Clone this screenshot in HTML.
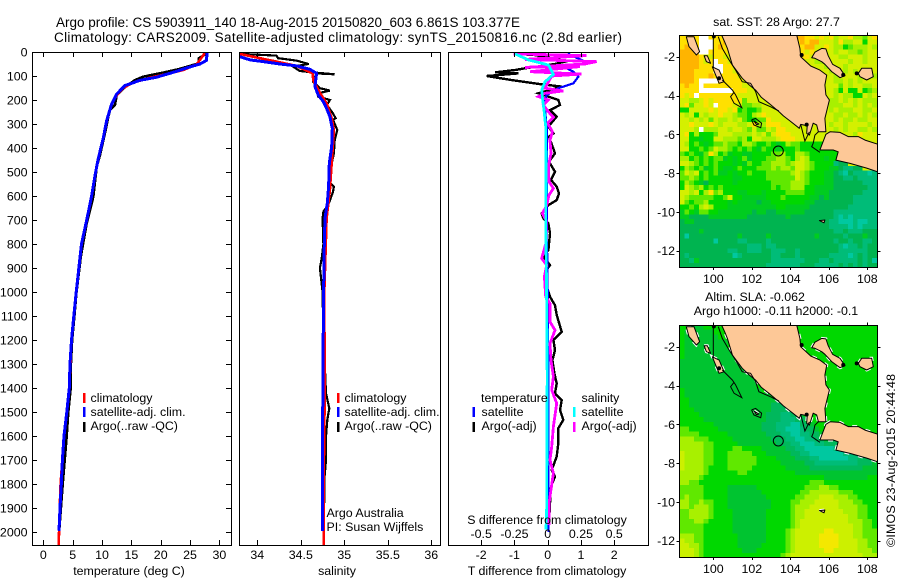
<!DOCTYPE html>
<html lang="en">
<head>
<meta charset="utf-8">
<title>Argo profile chart</title>
<style>
html,body{margin:0;padding:0;background:#fff;}
#chart{display:block;width:900px;height:580px;}
text{font-family:"Liberation Sans",sans-serif;font-size:12.4px;fill:#000;}
.title{font-size:13.5px;}
.line{fill:none;stroke-linejoin:miter;shape-rendering:crispEdges;}
.axis{shape-rendering:crispEdges;}
</style>
</head>
<body>
<svg id="chart" xmlns="http://www.w3.org/2000/svg" width="900" height="580" viewBox="0 0 900 580">
  <defs>
    <clipPath id="clip-temp"><rect x="32" y="52" width="199" height="493"/></clipPath>
    <clipPath id="clip-sal"><rect x="239" y="52" width="201" height="493"/></clipPath>
    <clipPath id="clip-diff"><rect x="448" y="52" width="200" height="493"/></clipPath>
    <clipPath id="clip-sst"><rect x="679" y="35" width="198.5" height="232"/></clipPath>
    <clipPath id="clip-sla"><rect x="679" y="325" width="198.5" height="232"/></clipPath>
  </defs>
  <rect x="0" y="0" width="900" height="580" fill="#fff"/>
  <text class="title" x="56" y="27" textLength="464">Argo profile: CS 5903911_140 18-Aug-2015 20150820_603 6.861S 103.377E</text>
  <text class="title" x="54" y="42" textLength="568">Climatology: CARS2009. Satellite-adjusted climatology: synTS_20150816.nc (2.8d earlier)</text>

  <g id="temp-panel"></g>
  <g id="sal-panel"></g>
  <g id="diff-panel"></g>
  <g id="sst-map"></g>
  <g id="sla-map"></g>

  <text x="129" y="575" text-anchor="middle">temperature (deg C)</text>
  <text x="337" y="575" text-anchor="middle">salinity</text>
  <text x="547" y="575" text-anchor="middle">T difference from climatology</text>
  <text x="547" y="524" text-anchor="middle">S difference from climatology</text>

  <g>
    <rect x="83" y="393" width="2.5" height="10" fill="#f00"/>
    <text x="90.5" y="402">climatology</text>
    <rect x="83" y="407" width="2.5" height="10" fill="#00f"/>
    <text x="90.5" y="416">satellite-adj. clim.</text>
    <rect x="83" y="422" width="2.5" height="10" fill="#000"/>
    <text x="90.5" y="430">Argo(..raw -QC)</text>
  </g>
  <g>
    <rect x="337" y="393" width="2.5" height="10" fill="#f00"/>
    <text x="344.5" y="402">climatology</text>
    <rect x="337" y="407" width="2.5" height="10" fill="#00f"/>
    <text x="344.5" y="416">satellite-adj. clim.</text>
    <rect x="337" y="422" width="2.5" height="10" fill="#000"/>
    <text x="344.5" y="430">Argo(..raw -QC)</text>
  </g>
  <text x="326.5" y="517">Argo Australia</text>
  <text x="326.5" y="531">PI: Susan Wijffels</text>

  <g>
    <text x="481" y="402">temperature</text>
    <rect x="472.5" y="407" width="2.5" height="10" fill="#00f"/>
    <text x="481.5" y="416">satellite</text>
    <rect x="472.5" y="422" width="2.5" height="10" fill="#000"/>
    <text x="481.5" y="430">Argo(-adj)</text>
    <text x="581.5" y="402">salinity</text>
    <rect x="573" y="407" width="2.5" height="10" fill="#0ff"/>
    <text x="581.5" y="416">satellite</text>
    <rect x="573" y="422" width="2.5" height="10" fill="#f0f"/>
    <text x="581.5" y="430">Argo(-adj)</text>
  </g>

  <text x="776.5" y="26" text-anchor="middle">sat. SST: 28 Argo: 27.7</text>
  <text x="755" y="301" text-anchor="middle">Altim. SLA: -0.062</text>
  <text x="776" y="315" text-anchor="middle">Argo h1000: -0.11 h2000: -0.1</text>
  <text transform="translate(895,547) rotate(-90)" textLength="173">©IMOS 23-Aug-2015 20:44:48</text>
</svg>
<script>
/* ---------- Depth axis ---------- */
const depthTicks = [0,100,200,300,400,500,600,700,800,900,1000,1100,1200,1300,1400,1500,1600,1700,1800,1900,2000];
const tempTicks = [0,5,10,15,20,25,30];
const salTicks = [34,34.5,35,35.5,36];
const tDiffTicks = [-2,-1,0,1,2];
const sDiffTicks = [-0.5,-0.25,0,0.25,0.5];
const lonTicks = [100,102,104,106,108];
const latTicks = [-2,-4,-6,-8,-10,-12];

/* ---------- Temperature profile ---------- */
const tempArgoDepth = [5,26,47,58,72,86,103,117,147,179,221,242,269,339,429,478,603,720,850,1000,1100,1200,1300,1400,1500,1600,1700,1800,2000];
const tempArgo = [27.94,26.52,26.5,24.99,23,20.45,17.04,15.62,13.9,12.5,12.2,11.36,11.08,10.5,9.66,9.1,8.52,7.35,6.4,5.65,5.3,4.9,4.7,4.66,4.26,3.98,3.64,3.3,2.7];
const tempClimDepth = [5,33,52,75,92,107,128,150,180,220,285,360,445,515,605,700,800,1000,1200,1400,1600,1800,1900,2054];
const tempClim = [27.5,26.7,26.1,23.85,21,18.2,15.3,13.6,12.5,11.6,10.8,10.2,9.35,8.8,8.2,7.4,6.5,5.6,4.8,4.43,3.53,2.95,2.8,2.63];
const tempSatDepth = [0,35,50,62,85,105,118,140,175,220,285,360,445,515,605,700,800,1000,1100,1200,1300,1400,1500,1600,1700,1800,1900,1995];
const tempSat = [27.9,27.8,26.7,25,22.1,19.3,16.5,13.9,12.5,11.6,10.8,10.2,9.35,8.8,8.2,7.4,6.5,5.6,5.2,4.8,4.55,4.43,4,3.53,3.25,3.07,2.85,2.67];

/* ---------- Salinity profile ---------- */
const salArgoDepth = [8,15,26,36,50,61,79,85,93,89,124,151,161,172,186,200,221,256,276,283,325,367,422,464,547,561,582,624,645,665,693,800,860,900,1000,1200,1325,1422,1485,1533,1603,1700,1783,1860,1978];
const salArgo = [33.8,34.22,34.24,34.45,34.59,34.41,34.49,34.64,34.89,34.68,34.64,34.72,34.835,34.7,34.7,34.835,34.8,34.87,34.9,34.87,34.92,34.89,34.88,34.855,34.84,34.88,34.87,34.83,34.8,34.76,34.75,34.76,34.74,34.72,34.75,34.76,34.778,34.79,34.828,34.805,34.79,34.79,34.77,34.77,34.76];
const salClimDepth = [8,26,40,58,89,117,158,214,276,325,408,506,575,693,1000,1325,1500,1700,2054];
const salClim = [33.8,34.03,34.22,34.45,34.636,34.644,34.7,34.797,34.855,34.88,34.866,34.847,34.835,34.797,34.77,34.773,34.772,34.765,34.763];
const salSatDepth = [19,33,40,50,58,72,89,110,144,179,207,235,269,318,394,464,561,630,693,800,1000,1300,1600,1995];
const salSat = [33.8,33.916,34.069,34.26,34.452,34.605,34.682,34.674,34.663,34.7,34.76,34.797,34.835,34.862,34.855,34.828,34.82,34.805,34.778,34.77,34.762,34.755,34.75,34.747];

/* ---------- Differences from climatology ---------- */
const tDiffArgoDepth = [8,12,26,40,50,68,75,85,89,100,117,133,144,172,200,221,242,269,311,339,353,422,457,499,533,561,589,617,638,673,693,714,756,798,825,853,888,916,950,978,1020,1055,1096,1166,1200,1242,1284,1339,1381,1422,1450,1492,1533,1568,1631,1686,1742,1769,1811,1881,1964];
const tDiffArgo = [-1.03,-0.43,0.22,0.52,0.22,-0.68,-0.98,-1.585,-0.88,-1.835,-1.08,-0.28,0.42,-0.28,0.32,0.37,0.07,0.27,0.02,0.17,0.04,0.22,0.04,0.22,0.1,0.27,0.34,0.27,0.02,-0.18,-0.13,0.02,0.07,0.04,0.02,-0.13,0.07,-0.08,-0.1,-0.03,0.07,0.22,0.27,0.42,0.17,0.22,0.14,0.2,0.27,0.22,0.42,0.37,0.47,0.32,0.32,0.27,0.12,0.22,0.1,0.07,0.04];
const tDiffSatDepth = [5,12,33,47,54,68,82,103,131,151,179,214,242,311,367,700,1000,1400,1999];
const tDiffSat = [0.62,0.67,1.02,1.17,0.92,0.57,0.77,0.92,0.77,0.32,-0.03,-0.13,-0.08,-0.03,-0.03,-0.03,0,0.02,0.02];
const sDiffArgoDepth = [8,15,31,40,50,64,61,82,92,100,151,162,172,186,200,221,249,272,297,332,367,422,478,540,568,596,638,673,700,784,860,888,936,1020,1048,1124,1159,1214,1284,1353,1408,1464,1561,1644,1700,1755,1881,1971];
const sDiffArgo = [-0.2575,0.2925,-0.17,0.3675,0.28,-0.17,0.2425,-0.1325,0.255,0.03,-0.02,0.1175,-0.02,-0.07,0.005,-0.0325,0.005,0.0425,0,0.035,0.0175,0.025,0.005,0.01,0.0425,0.01,-0.0075,-0.04,-0.0125,-0.0075,-0.045,-0.0075,-0.025,-0.015,0.0175,0.0175,0.055,0.0175,0.025,0.0425,0.03,0.0675,0.0425,0.03,0.0175,0.0425,0.01,0.01];
const sDiffSatDepth = [8,33,54,93,124,158,200,242,311,506,693,1000,1350,1900,1990];
const sDiffSat = [-0.245,-0.145,0.005,0.043,-0.02,-0.045,-0.0375,-0.0275,-0.015,-0.0125,-0.015,-0.008,-0.004,-0.0075,-0.0125];

/* ---------- Gridded map fields: one level character per 0.25 degree cell ---------- */
const gridWestLon = 98.25;
const gridNorthLat = -0.875;
const gridStep = 0.25;
const sstColors = {w:"#ffffff","0":"#00c8a0","1":"#00bc78","2":"#00b450","3":"#00cc20","4":"#00d800","5":"#60e800","6":"#a8f000","7":"#d4f000","8":"#ffe000","9":"#ffb400"};
const slaColors = {w:"#ffffff","0":"#00c8a0","1":"#00bc78","2":"#00b85c","3":"#00c430","4":"#00d800","5":"#60e800","6":"#a8f000","7":"#ccf000","8":"#f4e800","9":"#ffb400"};
const sstRows = [
"8898ww8888 7777777777 7777998878 7867786657 8",
"8898www889 7777777777 7777898997 7768667747 7",
"8998www898 7777777777 7777889977 8766456667 6",
"9998ww8888 7777777777 7777887877 7767766567 7",
"9999877887 7777777777 7777788776 7776677767 7",
"9999878w88 7777777777 7777787766 7777767767 7",
"9999888ww8 8777777777 7777777777 6777677777 7",
"9998888ww8 8777777777 7777777777 7677676777 7",
"9998889888 8877777777 7777777777 7767777677 6",
"9998wwww88 8887777777 7777777777 7766767677 7",
"8988w88888 8887777777 7777777777 7775767766 7",
"8888wwwwww w888777777 7777777777 7764744745 6",
"878w888888 8877777777 7777777777 7767664476 7",
"7766787888 8885777777 7777777777 7667676766 6",
"7857787w88 8775566777 7777777777 7666776767 6",
"4477778788 7845445777 7777777777 7676667766 7",
"7674767787 7655467877 7777777777 7766766767 6",
"7767675766 7675445587 7777777777 7767667667 7",
"7787778767 7766786688 8777777777 7677677776 7",
"7776w66677 6776575576 8877777777 7767677667 6",
"7846444577 7666676757 8887777777 7777776877 7",
"7744344776 6656477666 7888777777 7777777777 7",
"7645434556 5546654454 3465544444 4777777777 7",
"7744545766 5454543544 3444544444 4447777777 7",
"5454358645 3443344445 5644665444 4444777777 7",
"6645454553 4345344455 6654676444 3444477777 7",
"7765454544 4343544556 6656776544 4412277777 7",
"4654534543 3454445556 5665776544 4332112277 7",
"5767454533 4344544455 5556765444 3321021110 1",
"5565454444 4334444455 5555765444 3322112111 1",
"4654324444 4344444445 5556665444 3322222211 1",
"4765645454 4444444445 4556664433 3322222221 1",
"7767468564 4433444344 4455554433 3222222211 1",
"7655555445 7443333344 4544444332 3222221111 1",
"7545564444 3433332334 4444443322 2222221111 1",
"4454676444 3333333333 4433333222 2222211111 1",
"3543554433 3333323322 3333332222 2211111111 1",
"3322223333 3333222222 2232222222 2210101111 1",
"2332222222 2222222222 2222222222 2110001001 1",
"2222222222 2222222222 2222222222 2111101011 1",
"2222322222 2222222222 2222222222 2211211122 2",
"2022222222 2232222232 2222222232 2222122232 2",
"2222222022 2211222212 2222222222 2212212211 2",
"2222222222 2222111211 2222222222 2221011212 2",
"2222222222 1122111221 1122122222 2221111112 2",
"2122222222 2012222221 1222122222 2111101212 2",
"2213222222 2222222221 1111112221 1211111212 0",
"2222222222 2222222211 1111122211 1112121212 2"
];
const slaRows = [
"4433344444 4444444444 4444444444 4444444444 4",
"4333333444 4444444444 4444444444 4444444444 4",
"4333333344 4444444444 4444444444 4444444444 4",
"4333333333 4444444444 4444444444 4444444444 4",
"4333333333 4444444444 4444444444 4444444444 4",
"4333333333 3444444444 4444444444 4444444444 4",
"4333333333 3344444444 4444444444 4444444444 4",
"3333333333 3334444444 4444444444 4444444444 4",
"3333333333 3333444444 4444444444 4444444444 4",
"3333333333 3333344444 4444444444 4444444444 4",
"3333333333 3333344444 4444444444 4444444444 4",
"3333333333 3333334444 4444444444 4444444444 4",
"3333333333 3333334444 4444444444 4444444444 4",
"4333333333 3333333444 4444444444 4444444444 4",
"4333333333 3333333334 4444444444 4444444444 4",
"4433333333 3333333333 2244444444 4444444444 4",
"4433333333 3333333332 2223444444 4444444444 4",
"4443333333 3333333332 2222344444 4444444444 4",
"4444333333 3333333322 2112234444 4444444444 4",
"4444433333 3333333322 2111223444 4444444444 4",
"4444444333 3333333222 1110022344 4444444444 4",
"5544444433 3333333222 1100012234 4444444444 4",
"5555444444 3333333322 2110011223 4444444444 4",
"6665554444 4333333332 2211001122 3322222222 3",
"6666655444 4433333333 2221100011 2221122222 2",
"6666655444 4554444333 3322110000 0011122222 2",
"7666655444 5555544433 3332211000 0000112222 2",
"7666655444 5555554444 3333222110 0000011222 2",
"7666655444 5555554444 4333332211 1111111222 3",
"7666654444 5555544444 4433333222 2222222233 3",
"6666654444 4455444444 4444333333 3333333333 3",
"6666544444 4444444444 4444444444 3333333334 4",
"6655444444 4444444444 4444444555 4444444444 4",
"5555544444 3333334444 4444445556 6554444444 4",
"5555544444 3333333444 4444455666 6665554444 4",
"5655544444 3333333344 4444556667 7766655444 4",
"6655655444 3333333334 4445566677 7776665544 4",
"6656665444 3333333334 4445666777 7776666554 4",
"5566665444 4333333344 4445667777 7777666554 4",
"5566665444 4333333344 4445667777 7777766554 4",
"5556654444 4333333344 4445677777 7777766655 4",
"5555544444 4333333344 4445677777 7777776655 4",
"5555544444 4333333344 4456777777 8877776655 5",
"6665544444 4433333344 4456777778 8887776655 5",
"7665544444 4433333344 4456777778 8887777665 5",
"7766544444 4433333444 4456777778 8887777665 5",
"7776544444 4443334444 4456777777 8877777666 5",
"7776544444 4444444444 4567777777 7777777766 6"
];

/* ---------- Coastlines and isobaths as lon/lat ---------- */
const sumatraLon = [100.3,100.43,100.6,100.73,100.99,101.5,101.87,102.2,102.5,102.89,103.41,103.64,103.98,104.47,104.54,104.88,104.85,104.99,105.19,105.37,105.46,105.85,105.8,106.03,105.85,105.8,105.89,105.54,105.06,104.54,104.5,104.33,104.3];
const sumatraLat = [-0.7,-0.88,-1.25,-1.57,-2.43,-3.11,-3.46,-3.72,-4.1,-4.4,-4.83,-5.05,-5.31,-5.69,-5.49,-5.56,-5.95,-6.04,-5.43,-5.52,-5.87,-5.87,-5.18,-4.23,-3.97,-3.46,-2.95,-2.69,-2.48,-2,-1.57,-0.88,-0.7];
const javaLon = [105.85,106.06,106.58,107.01,107.53,107.88,108.57,108.83,108.83,108.62,107.97,107.1,106.37,106.49,106.23,105.54];
const javaLat = [-6,-5.87,-5.9,-6.12,-6.12,-6.3,-6.52,-6.6,-8.1,-7.96,-7.74,-7.5,-7.33,-6.9,-6.81,-6.81];
const bangkaLon = [105.11,105.28,105.63,105.85,105.97,106.2,106.58,106.84,106.58,106.15,105.8,105.63,105.28];
const bangkaLat = [-2.05,-1.77,-1.57,-1.6,-1.95,-2.39,-2.6,-2.98,-3.08,-2.77,-2.39,-2.26,-2.08];
const belitungLon = [107.53,107.71,108.23,108.31,107.97,107.62];
const belitungLat = [-2.86,-2.6,-2.6,-3.03,-3.2,-3.03];
const niasLon = [98.6,99,99.29,99.12,98.74];
const niasLat = [-0.97,-0.97,-1.74,-1.91,-1.48];
const siberutLon = [99.52,99.69,99.86,99.64];
const siberutLat = [-1.95,-1.95,-2.34,-2.26];
const pagaiLon = [99.95,100.3,100.56,100.3];
const pagaiLat = [-2.52,-2.69,-3.29,-3.37];
const engganoLon = [102.11,102.37,102.25];
const engganoLat = [-5.31,-5.47,-5.5];
const christmasLon = [105.51,105.8,105.75];
const christmasLat = [-10.45,-10.42,-10.56];
const isobathMeridianLon = [100,100];
const isobathMeridianLat = [-0.7,-2.6];
const isobathShelfLon = [100.26,100.47,100.82,101.16,101.5,101.94,102.2,102.37,102.98,103.41];
const isobathShelfLat = [-0.97,-1.57,-2.17,-2.69,-3.29,-3.37,-3.8,-4.32,-4.58,-4.8];
const isobathLoopLon = [100.47,100.99,101.16,101.48,101.08,100.9,101.08];
const isobathLoopLat = [-3.2,-3.72,-3.97,-4.63,-4.4,-4.06,-3.83];
const isobathEngganoLon = [101.99,102.2,102.51,102.46,102.11,101.99];
const isobathEngganoLat = [-5.26,-5.18,-5.43,-5.66,-5.52,-5.26];
const isobathBayLon = [104.54,104.76,104.99];
const isobathBayLat = [-5.49,-6.35,-5.87];
const isobathStraitLon = [105.46,105.28,105.19,105.11,105.54];
const isobathStraitLat = [-5.87,-6.04,-6.46,-6.64,-6.93];
const reefBlobLon = [100.3,106.75,107.45,104.59,104.85,100.03];
const reefBlobLat = [-3.11,-2.94,-2.86,-1.91,-5.5,-0.95];
const argoLon = 103.377;
const argoLat = -6.861;

/* ---------- Axis functions ---------- */
const yDepth = d => 52 + 0.24 * d;
const xTemp = v => 43.3 + 5.87 * v;
const xSal = v => 257.3 + 87 * (v - 34);
const xTDiff = v => 547.7 + 33.25 * v;
const xSDiff = v => 547.7 + 133 * v;
const xLon = v => 713.3 + 19.25 * (v - 100);
const yLatSst = v => 56.7 + 19.4 * (-2 - v);
const yLatSla = v => 346.7 + 19.4 * (-2 - v);

const SVGNS = "http://www.w3.org/2000/svg";
function make(tag, parent, props) {
  const el = document.createElementNS(SVGNS, tag);
  for (const k in props) el.setAttribute(k, props[k]);
  parent.appendChild(el);
  return el;
}
function pathFrom(xs, ys, fx, fy, close) {
  let d = "";
  for (let i = 0; i < xs.length; i++) d += (i ? "L" : "M") + fx(xs[i]).toFixed(1) + " " + fy(ys[i]).toFixed(1);
  return close ? d + "Z" : d;
}
function drawProfile(parent, name, values, depths, fx, color, width, clip) {
  const el = make("path", parent, {d: pathFrom(values, depths, fx, yDepth), class: "line", stroke: color, "stroke-width": width, "clip-path": "url(#" + clip + ")"});
  
  
}
function drawFrame(parent, x0, y0, x1, y1) {
  const el = make("rect", parent, {x: x0 + 0.5, y: y0 + 0.5, width: x1 - x0, height: y1 - y0, fill: "none", stroke: "#000", "stroke-width": 1, class: "axis"});
  
  
}
function drawXTicks(parent, ticks, fx, y0, y1, labelY, labels, both) {
  ticks.forEach(t => {
    const x = Math.round(fx(t)) + 0.5;
    const bottom = make("line", parent, {x1: x, x2: x, y1: y1, y2: y1 - 5, stroke: "#000", class: "axis"});
    
    
    if (both) {
      const top = make("line", parent, {x1: x, x2: x, y1: y0, y2: y0 + 5, stroke: "#000", class: "axis"});
      
      
    }
    if (labels) {
      const lab = make("text", parent, {x: fx(t), y: labelY, "text-anchor": "middle"});
      lab.textContent = String(t);
      
      
    }
  });
}
function drawSeriesLand(parent, fy, clip, halo) {
  const group = make("g", parent, {"clip-path": "url(#" + clip + ")"});
  
  
  const lands = [["sumatra",sumatraLon,sumatraLat],["java",javaLon,javaLat],["bangka",bangkaLon,bangkaLat],["belitung",belitungLon,belitungLat],["nias",niasLon,niasLat],["siberut",siberutLon,siberutLat],["pagai",pagaiLon,pagaiLat],["enggano",engganoLon,engganoLat],["christmas-island",christmasLon,christmasLat]];
  lands.forEach(l => {
    if (halo) {
      const rim = make("path", group, {d: pathFrom(l[1], l[2], xLon, fy, true), fill: "none", stroke: "#fff", "stroke-width": 3, "stroke-dasharray": "5 9"});
      
      
    }
    const el = make("path", group, {d: pathFrom(l[1], l[2], xLon, fy, true), fill: "#fdc897", stroke: "#000", "stroke-width": 1, "stroke-linejoin": "round"});
    
    
  });
  const lines = [["isobath-meridian",isobathMeridianLon,isobathMeridianLat],["isobath-shelf",isobathShelfLon,isobathShelfLat],["isobath-loop",isobathLoopLon,isobathLoopLat],["isobath-enggano",isobathEngganoLon,isobathEngganoLat],["isobath-bay",isobathBayLon,isobathBayLat],["isobath-strait",isobathStraitLon,isobathStraitLat]];
  lines.forEach(l => {
    const el = make("path", group, {d: pathFrom(l[1], l[2], xLon, fy, false), fill: "none", stroke: "#000", "stroke-width": 1});
    
    
  });
  reefBlobLon.forEach((lon, i) => {
    const blob = make("circle", group, {cx: xLon(lon), cy: fy(reefBlobLat[i]), r: 2, fill: "#000"});
    
    
  });
}
function drawMap(parent, rows, colors, fy, clip, top, bottom, labelY, halo) {
  const cells = make("g", parent, {"clip-path": "url(#" + clip + ")", "shape-rendering": "crispEdges"});
  
  
  rows.forEach((row, r) => {
    const chars = row.replace(/ /g, "");
    const lat = gridNorthLat - r * gridStep;
    for (let c = 0; c < chars.length; c++) {
      const lon = gridWestLon + c * gridStep;
      const x0 = xLon(lon), x1 = xLon(lon + gridStep), y0 = fy(lat), y1 = fy(lat - gridStep);
      const cell = make("rect", cells, {x: x0.toFixed(1), y: y0.toFixed(1), width: (x1 - x0 + 0.4).toFixed(1), height: (y1 - y0 + 0.4).toFixed(1), fill: colors[chars[c]]});
      
      
    }
  });
  drawSeriesLand(parent, fy, clip, halo);
  const marker = make("circle", parent, {cx: xLon(argoLon), cy: fy(argoLat), r: 5, fill: "none", stroke: "#000", "stroke-width": 1});
  
  
  drawFrame(parent, 679, top, 877, bottom);
  lonTicks.forEach(t => {
    const x = Math.round(xLon(t)) + 0.5;
    const a = make("line", parent, {x1: x, x2: x, y1: bottom + 0.5, y2: bottom + 3, stroke: "#000", class: "axis"});
    
    
    const b = make("line", parent, {x1: x, x2: x, y1: top, y2: top - 2.5, stroke: "#000", class: "axis"});
    
    
    const lab = make("text", parent, {x: xLon(t), y: labelY, "text-anchor": "middle"});
    lab.textContent = String(t);
    
    
  });
  latTicks.forEach(t => {
    const y = Math.round(fy(t)) + 0.5;
    const a = make("line", parent, {x1: 679, x2: 676.5, y1: y, y2: y, stroke: "#000", class: "axis"});
    
    
    const b = make("line", parent, {x1: 878, x2: 880.5, y1: y, y2: y, stroke: "#000", class: "axis"});
    
    
    const lab = make("text", parent, {x: 675, y: fy(t) + 4.5, "text-anchor": "end"});
    lab.textContent = String(t);
    
    
  });
}

/* ---------- Temperature panel ---------- */
const tempPanel = document.getElementById("temp-panel");
drawProfile(tempPanel, 'temperature-argo-line', tempArgo, tempArgoDepth, xTemp, "#000", 2.6, "clip-temp");
drawProfile(tempPanel, 'temperature-climatology-line', tempClim, tempClimDepth, xTemp, "#f00", 2.6, "clip-temp");
drawProfile(tempPanel, 'temperature-satellite-line', tempSat, tempSatDepth, xTemp, "#00f", 3, "clip-temp");
drawFrame(tempPanel, 32, 52, 231, 545);
drawXTicks(tempPanel, tempTicks, xTemp, 52, 545, 559, true, true);
depthTicks.forEach(t => {
  const y = Math.round(yDepth(t)) + 0.5;
  const left = make("line", tempPanel, {x1: 32, x2: 37, y1: y, y2: y, stroke: "#000", class: "axis"});
  
  
  const right = make("line", tempPanel, {x1: 231, x2: 226, y1: y, y2: y, stroke: "#000", class: "axis"});
  
  
  const lab = make("text", tempPanel, {x: 27.5, y: yDepth(t) + 4.5, "text-anchor": "end"});
  lab.textContent = String(t);
  
  
});

/* ---------- Salinity panel ---------- */
const salPanel = document.getElementById("sal-panel");
drawProfile(salPanel, 'salinity-argo-line', salArgo, salArgoDepth, xSal, "#000", 2.2, "clip-sal");
drawProfile(salPanel, 'salinity-climatology-line', salClim, salClimDepth, xSal, "#f00", 2.6, "clip-sal");
drawProfile(salPanel, 'salinity-satellite-line', salSat, salSatDepth, xSal, "#00f", 3, "clip-sal");
drawFrame(salPanel, 239, 52, 440, 545);
drawXTicks(salPanel, salTicks, xSal, 52, 545, 559, true, true);

/* ---------- Difference panel ---------- */
const diffPanel = document.getElementById("diff-panel");
drawProfile(diffPanel, 't-difference-argo-line', tDiffArgo, tDiffArgoDepth, xTDiff, "#000", 2.4, "clip-diff");
drawProfile(diffPanel, 't-difference-satellite-line', tDiffSat, tDiffSatDepth, xTDiff, "#00f", 2.2, "clip-diff");
drawProfile(diffPanel, 's-difference-argo-line', sDiffArgo, sDiffArgoDepth, xSDiff, "#f0f", 2.8, "clip-diff");
drawProfile(diffPanel, 's-difference-satellite-line', sDiffSat, sDiffSatDepth, xSDiff, "#0ff", 2.8, "clip-diff");
drawFrame(diffPanel, 448, 52, 648, 545);
drawXTicks(diffPanel, tDiffTicks, xTDiff, 52, 545, 559, true, true);
sDiffTicks.forEach(t => {
  const lab = make("text", diffPanel, {x: xSDiff(t), y: 538, "text-anchor": "middle"});
  lab.textContent = String(t);
  
  
});

/* ---------- Maps ---------- */
drawMap(document.getElementById("sst-map"), sstRows, sstColors, yLatSst, "clip-sst", 35, 267, 283, false);
drawMap(document.getElementById("sla-map"), slaRows, slaColors, yLatSla, "clip-sla", 325, 557, 573, true);
</script>
</body>
</html>
